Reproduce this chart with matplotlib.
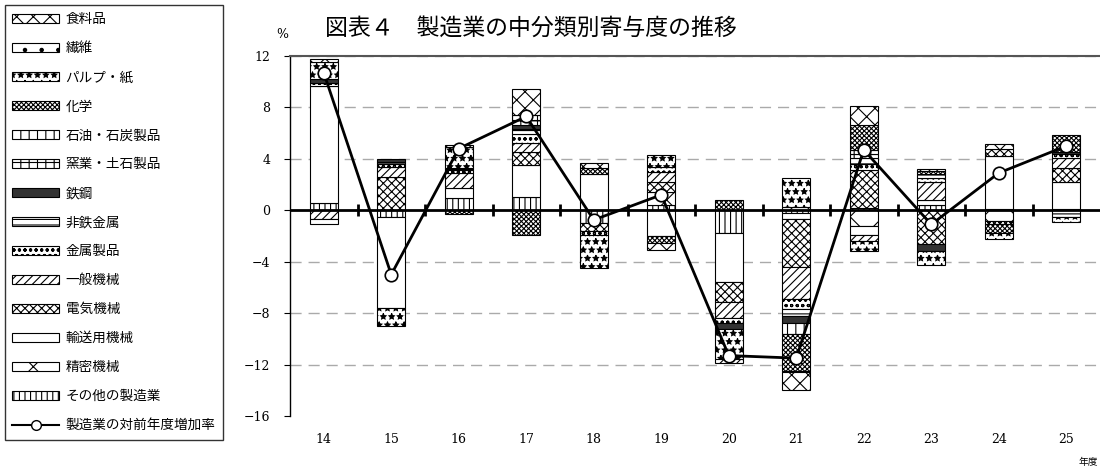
import matplotlib.pyplot as plt
import matplotlib.patches as mpatches
from matplotlib.lines import Line2D
import numpy as np

plt.rcParams['font.family'] = ['Noto Sans CJK JP', 'DejaVu Sans']
plt.rcParams['hatch.linewidth'] = 0.8

# fiscal years (Heisei)
years = ['14', '15', '16', '17', '18', '19', '20', '21', '22', '23', '24', '25']

industries = ['食料品', '繊維', 'パルプ・紙', '化学', '石油・石炭製品', '窯業・土石製品',
              '鉄鋼', '非鉄金属', '金属製品', '一般機械', '電気機械', '輸送用機械',
              '精密機械', 'その他の製造業']

# contribution by industry (percentage points), years 14..25
food         = [0.20, 0.00, 0.12, 2.03, 0.43, -0.53, -0.30, -1.40, 1.47, 0.17, 0.42, 0.00]
textile      = [0.00, 0.00, 0.00, 0.00, 0.00, 0.00, 0.00, -0.10, 0.00, 0.00, 0.00, 0.00]
pulp         = [1.30, -1.40, 1.68, 0.00, -2.50, 0.90, -2.40, 2.27, -0.85, -1.05, -0.40, -0.38]
chemical     = [0.00, 0.00, -0.25, -1.95, 0.44, -0.57, 0.80, -2.90, 1.95, 0.20, -0.70, 1.29]
petroleum    = [0.00, 0.00, 0.00, 0.40, 0.00, 0.00, 0.00, -0.80, 0.30, 0.00, 0.00, 0.00]
ceramics     = [0.00, 0.00, 0.00, 0.34, 0.00, 0.00, 0.00, 0.00, 0.30, 0.00, 0.00, 0.00]
steel        = [0.35, 0.20, 0.00, 0.30, 0.00, 0.00, -0.40, -0.60, 0.00, -0.60, 0.00, 0.22]
nonferrous   = [-0.40, 0.17, 0.17, 0.40, 0.00, 0.00, 0.00, -0.50, 0.50, 0.30, 0.00, -0.50]
metal        = [0.25, 0.20, 0.20, 0.70, -0.35, 0.40, -0.40, -0.80, 0.45, 0.30, -0.25, 0.30]
general_mach = [-0.65, 0.80, 1.20, 0.70, 0.00, 0.77, -1.30, -2.50, -0.40, 1.43, 0.00, 0.77]
electrical   = [0.00, 2.60, 0.00, 1.06, -0.60, 0.78, -1.50, -3.70, 2.98, -2.60, 0.50, 1.04]
transport    = [9.10, -7.10, 0.75, 2.44, 2.83, -2.00, -3.80, -0.50, -0.75, 0.40, 4.13, 2.10]
precision    = [0.00, 0.00, 0.00, 0.00, 0.00, 1.05, 0.00, 0.28, -1.20, 0.00, -0.85, 0.00]
other        = [0.55, -0.50, 0.95, 1.06, -1.00, 0.40, -1.80, -0.20, 0.15, 0.40, 0.13, 0.13]

# manufacturing growth rate vs previous year (%)
growth = [10.7, -5.0, 4.8, 7.3, -0.75, 1.2, -11.3, -11.5, 4.7, -1.1, 2.9, 5.0]

series = [food, textile, pulp, chemical, petroleum, ceramics, steel, nonferrous,
          metal, general_mach, electrical, transport, precision, other]

# facecolor, hatch per industry
STYLE = {
    '食料品': ('white', 'xx'),
    '繊維': ('white', '.'),
    'パルプ・紙': ('white', '**'),
    '化学': ('white', 'xxxxxxx'),
    '石油・石炭製品': ('white', '||'),
    '窯業・土石製品': ('white', '++'),
    '鉄鋼': ('#333333', None),
    '非鉄金属': ('white', '---'),
    '金属製品': ('white', 'ooo'),
    '一般機械': ('white', '////'),
    '電気機械': ('white', 'xxxx'),
    '輸送用機械': ('white', None),
    '精密機械': ('white', 'x'),
    'その他の製造業': ('white', '|||'),
}

fig = plt.figure(figsize=(11, 4.68), dpi=100)
ax = fig.add_axes([290 / 1100, 52 / 468, 810 / 1100, 360 / 468])

x = np.arange(len(years))
bar_w = 0.41
pos_base = np.zeros(len(years))
neg_base = np.zeros(len(years))

# the last industry sits next to the zero line
for name, vals in reversed(list(zip(industries, series))):
    v = np.array(vals)
    fc, hatch = STYLE[name]
    up = v > 0
    ax.bar(x[up], v[up], bottom=pos_base[up], width=bar_w, color=fc, hatch=hatch,
           edgecolor='black', linewidth=0.8, zorder=2)
    pos_base[up] += v[up]
    dn = v < 0
    ax.bar(x[dn], v[dn], bottom=neg_base[dn], width=bar_w, color=fc, hatch=hatch,
           edgecolor='black', linewidth=0.8, zorder=2)
    neg_base[dn] += v[dn]

ax.axhline(0, color='black', lw=2, zorder=3)
ax.plot(x[:-1] + 0.5, np.zeros(len(years) - 1), ls='none', marker='|', ms=9,
        mew=2, color='black', zorder=3)

ax.plot(x, growth, color='black', lw=2, marker='o', ms=9, mfc='white',
        mec='black', mew=1.2, zorder=5)

ax.set_xlim(-0.5, len(years) - 0.5)
ax.set_ylim(-16, 12)
ax.set_yticks(np.arange(-16, 13, 4))
ax.set_xticks(x)
ax.set_xticklabels(years)
ax.tick_params(axis='x', length=0, pad=12, labelsize=9)
ax.tick_params(axis='y', length=4, direction='out', pad=10, labelsize=9)
for lab in ax.get_xticklabels() + ax.get_yticklabels():
    lab.set_family('DejaVu Serif')

ax.yaxis.grid(True, ls=(0, (8, 5)), color='#aaaaaa', lw=1, zorder=0)
ax.set_axisbelow(True)
for gl, t in zip(ax.get_ygridlines(), ax.get_yticks()):
    if t in (-16, 0):
        gl.set_visible(False)

ax.spines['right'].set_visible(False)
ax.spines['bottom'].set_visible(False)
ax.spines['top'].set_color('#555555')
ax.spines['top'].set_linewidth(1.5)
ax.spines['left'].set_linewidth(1)

# legend
handles = []
for name in industries:
    fc, hatch = STYLE[name]
    handles.append(mpatches.Patch(facecolor=fc, hatch=hatch, edgecolor='black',
                                  linewidth=0.8, label=name))
handles.append(Line2D([], [], color='black', lw=1.5, marker='o', ms=7, mfc='white',
                      mec='black', label='製造業の対前年度増加率'))
leg = fig.legend(handles=handles, loc='upper left', bbox_to_anchor=(5 / 1100, 1 - 5 / 468),
                 fontsize=9.8, frameon=True, fancybox=False, edgecolor='black',
                 labelspacing=1.1, handlelength=3.4, handleheight=0.6,
                 handletextpad=0.5, borderpad=0.55, borderaxespad=0)
leg.get_frame().set_linewidth(1)

fig.text(325 / 1100, 1 - 28 / 468, '図表４　製造業の中分類別寄与度の推移',
         fontsize=16.5, ha='left', va='center')
fig.text(282 / 1100, 1 - 34 / 468, '%', fontsize=9, ha='center', va='center',
         family='DejaVu Serif')
fig.text(1088 / 1100, 1 - 462 / 468, '年度', fontsize=7, ha='center', va='center')

fig.savefig('out.png', dpi=100)
